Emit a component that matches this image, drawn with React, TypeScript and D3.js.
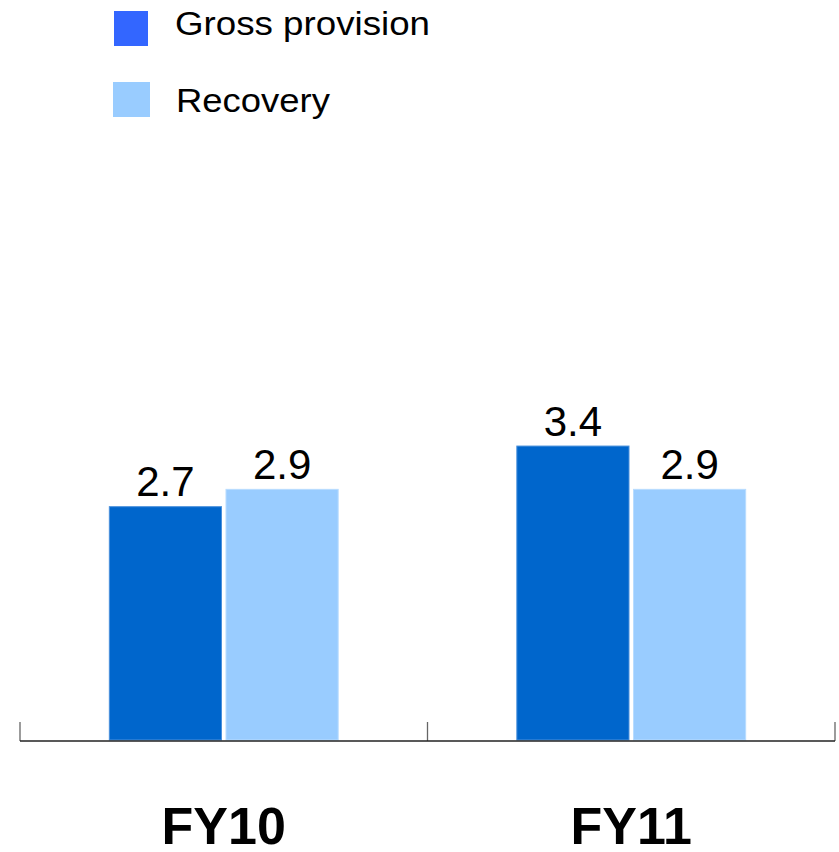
import React, { useEffect } from "react";
import * as d3 from "d3";

const W = 839;
const H = 852;

const categories = ["FY10", "FY11"];
const seriesNames = ["Gross provision", "Recovery"];
const grossProvision = [2.7, 3.4];
const recovery = [2.9, 2.9];

const barColors = ["#0066CC", "#99CCFF"];
const barEdges = ["#4a90dc", "#b8dcff"];
const legendColors = ["#3366FF", "#99CCFF"];

const FONT = "'Liberation Sans', Arial, Helvetica, sans-serif";

export default function App() {
  useEffect(() => {
    document.body.style.margin = "0";
  }, []);

  const x0 = d3.scaleBand<string>().domain(categories).range([20, 835]).padding(0);
  const bw = x0.bandwidth();
  const x1 = d3
    .scaleBand<string>()
    .domain(seriesNames)
    .range([bw * 0.218, bw * 0.782])
    .paddingInner(0.03);
  const y = d3.scaleLinear().domain([0, 4]).range([740, 393.6]);

  const values = [grossProvision, recovery];
  const fmt = d3.format(".1f");

  const tickXs = [...categories.map((c) => x0(c) as number), (x0(categories[categories.length - 1]) as number) + bw];

  const legendRows = [
    { name: seriesNames[0], sx: 114, sy: 11, sw: 34, sh: 35, tx: 175, ty: 35, tl: 255 },
    { name: seriesNames[1], sx: 113, sy: 82, sw: 37, sh: 35, tx: 176, ty: 112, tl: 154 },
  ];

  return (
    <svg
      width={W}
      height={H}
      viewBox={`0 0 ${W} ${H}`}
      style={{ position: "absolute", left: 0, top: 0, background: "#ffffff" }}
      fontFamily={FONT}
    >
      {/* legend */}
      {legendRows.map((r, i) => (
        <g key={r.name}>
          <rect x={r.sx} y={r.sy} width={r.sw} height={r.sh} fill={legendColors[i]} />
          <text
            x={r.tx}
            y={r.ty}
            fontSize={33}
            fill="#000"
            textLength={r.tl}
            lengthAdjust="spacingAndGlyphs"
          >
            {r.name}
          </text>
        </g>
      ))}

      {/* bars and value labels */}
      {categories.map((cat, ci) => (
        <g key={cat} transform={`translate(${x0(cat)},0)`}>
          {seriesNames.map((s, si) => {
            const v = values[si][ci];
            const bx = x1(s) as number;
            const bwid = x1.bandwidth();
            return (
              <g key={s}>
                <rect
                  x={bx + 0.5}
                  y={y(v) + 0.5}
                  width={bwid - 1}
                  height={y(0) - y(v) - 0.5}
                  fill={barColors[si]}
                  stroke={barEdges[si]}
                  strokeWidth={1}
                />
                <text
                  x={bx + bwid / 2}
                  y={y(v) - 10}
                  textAnchor="middle"
                  fontSize={42}
                  fill="#000"
                >
                  {fmt(v)}
                </text>
              </g>
            );
          })}
          <text
            x={bw / 2}
            y={844}
            textAnchor="middle"
            fontSize={52}
            fontWeight="bold"
            fill="#000"
          >
            {cat}
          </text>
        </g>
      ))}

      {/* axis */}
      {tickXs.map((tx, i) => (
        <line key={i} x1={tx} x2={tx} y1={722} y2={741} stroke="#666" strokeWidth={1.3} />
      ))}
      <line x1={20} x2={tickXs[tickXs.length - 1]} y1={741} y2={741} stroke="#222" strokeWidth={1.3} />
    </svg>
  );
}
